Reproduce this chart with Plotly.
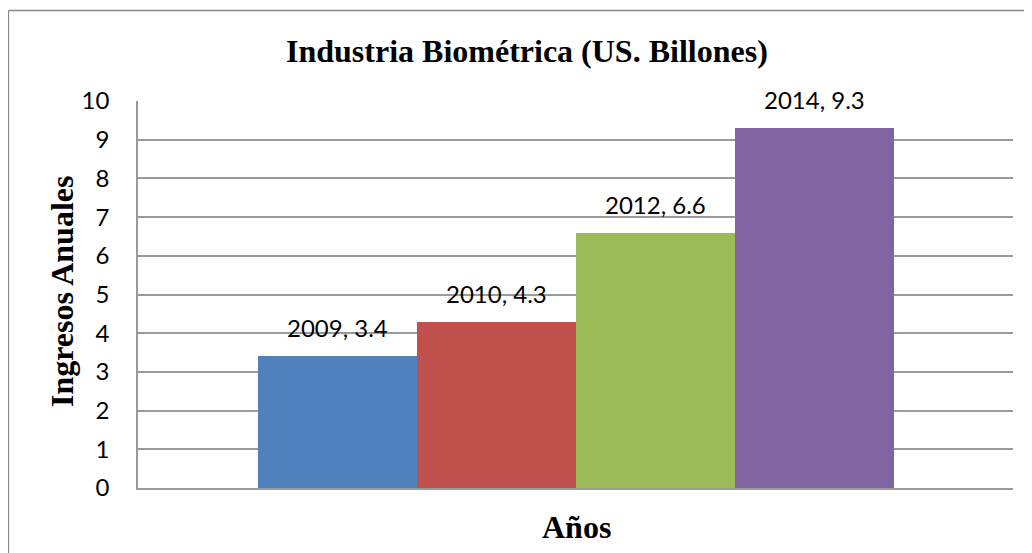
import plotly.graph_objects as go

years = ["2009", "2010", "2012", "2014"]
values = [3.4, 4.3, 6.6, 9.3]
colors = ["#4F81BD", "#C0504D", "#9BBB59", "#8064A2"]
y_ticks = list(range(0, 11))

title_text = "Industria Biométrica (US. Billones)"
y_title = "Ingresos Anuales"
x_title = "Años"

# page body has an 8px margin; figure origin sits at (8, 8) of the window
OFF = 8
W, H = 1024, 545
PL, PR, PT, PB = 138, 1013, 101, 488   # plot area in window pixels
L = PL - OFF
R = W - (PR - OFF)
T = PT - OFF
B = H - (PB - OFF)
pw = W - L - R
ph = H - T - B

def px_x(p):
    return (p - PL) / pw

def px_y(p):
    return (PB - p) / ph

fig = go.Figure()
fig.add_trace(go.Bar(
    x=years, y=values, marker=dict(color=colors, line=dict(width=0)),
    width=1.0, showlegend=False, hoverinfo="x+y",
))

label_font = dict(family="Lato, Carlito, 'Open Sans', sans-serif", size=24, color="#000000")
serif_bold = dict(family="'Liberation Serif', 'Times New Roman', serif", size=32, color="#000000")

annotations = []
for i, (yr, v) in enumerate(zip(years, values)):
    annotations.append(dict(
        x=i, y=v, xref="x", yref="y", text=f"{yr}, {v}", showarrow=False,
        yanchor="bottom", xanchor="center", yshift=12, font=label_font,
    ))

annotations.append(dict(
    x=px_x(526.5), y=px_y(51), xref="paper", yref="paper", text=f"<b>{title_text}</b>",
    showarrow=False, xanchor="center", yanchor="middle", font=serif_bold,
))
annotations.append(dict(
    x=px_x(62), y=px_y(292), xref="paper", yref="paper", text=f"<b>{y_title}</b>",
    showarrow=False, xanchor="center", yanchor="middle", textangle=-90, font=serif_bold,
))
annotations.append(dict(
    x=px_x(576), y=px_y(527), xref="paper", yref="paper", text=f"<b>{x_title}</b>",
    showarrow=False, xanchor="center", yanchor="middle", font=serif_bold,
))

border = dict(color="#8a8a8a", width=1.3)
fig.update_layout(
    width=W, height=H,
    margin=dict(l=L, r=R, t=T, b=B, autoexpand=False),
    paper_bgcolor="white", plot_bgcolor="white",
    bargap=0,
    annotations=annotations,
    shapes=[
        dict(type="line", xref="paper", yref="paper", layer="below",
             x0=px_x(8.5), y0=px_y(10.5), x1=px_x(1200), y1=px_y(10.5), line=border),
        dict(type="line", xref="paper", yref="paper", layer="below",
             x0=px_x(8.5), y0=px_y(10.5), x1=px_x(8.5), y1=px_y(700), line=border),
    ],
    xaxis=dict(
        type="category", range=[-1.255, 4.245], showticklabels=False, ticks="",
        showgrid=False, zeroline=False, showline=True, linecolor="#9a9a9a", linewidth=1.5,
        fixedrange=True,
    ),
    yaxis=dict(
        range=[0, 10], tickvals=y_ticks, ticktext=[str(t) for t in y_ticks],
        showgrid=True, gridcolor="#9a9a9a", gridwidth=1.5, zeroline=False,
        showline=True, linecolor="#9a9a9a", linewidth=1.5, ticks="",
        ticklabelstandoff=22, tickfont=label_font, fixedrange=True,
    ),
)

fig.write_html("out.html")
